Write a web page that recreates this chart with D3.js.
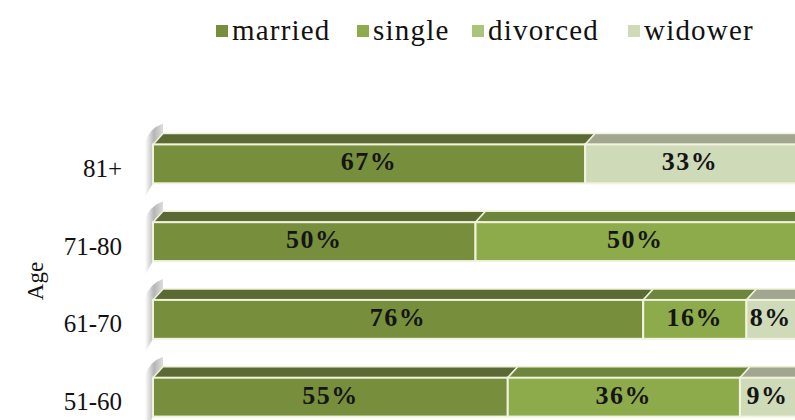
<!DOCTYPE html>
<html>
<head>
<meta charset="utf-8">
<script src="https://cdn.jsdelivr.net/npm/d3@7"></script>
<style>
  html, body { margin: 0; padding: 0; background: #fff; }
  svg { display: block; }
</style>
</head>
<body>
<svg id="chart" width="795" height="420"></svg>
<script>
const categories = ["81+", "71-80", "61-70", "51-60"];
const seriesNames = ["married", "single", "divorced", "widower"];
const married  = [67, 50, 76, 55];
const single   = [0, 50, 16, 36];
const divorced = [0, 0, 0, 0];
const widower  = [33, 0, 8, 9];
const axisTitle = "Age";

const frontColors = ["#778f3d", "#8eab4c", "#aac47a", "#cfdab8"];
const topColors   = ["#5b6a35", "#6e863b", "#8ea35e", "#a0a690"];

const rows = categories.map((c, i) => ({
  cat: c, married: married[i], single: single[i], divorced: divorced[i], widower: widower[i]
}));
const stack = d3.stack().keys(seriesNames)(rows);

const svg = d3.select("#chart");
const W = 795, H = 420;
svg.append("rect").attr("width", W).attr("height", H).attr("fill", "#fff");

const x = d3.scaleLinear().domain([0, 100]).range([153, 798]);
const y = d3.scaleBand().domain(categories).range([125, 436]).paddingInner(0.5).paddingOuter(0.25);
const dx = 10, dy = 11;

const defs = svg.append("defs");
const g1 = defs.append("linearGradient").attr("id", "wallGrad").attr("x1", "0").attr("x2", "1").attr("y1", "0").attr("y2", "0");
g1.append("stop").attr("offset", "0").attr("stop-color", "#ffffff");
g1.append("stop").attr("offset", "0.5").attr("stop-color", "#a8a8a8");
g1.append("stop").attr("offset", "1").attr("stop-color", "#d8d8d8");

// left wall shading for each bar
categories.forEach(c => {
  const fy = y(c), fh = y.bandwidth();
  const x0 = x(0);
  svg.append("path")
    .attr("d", `M${x0-8},${fy+fh+14} L${x0-8},${fy-2} Q${x0-4},${fy-16} ${x0+dx},${fy-dy-10} L${x0+dx},${fy-dy} L${x0},${fy} L${x0},${fy+fh} Z`)
    .attr("fill", "url(#wallGrad)")
    .attr("opacity", 0.85);
});

const gBars = svg.append("g");
categories.forEach((c, ci) => {
  const fy = y(c), fh = y.bandwidth();
  const segs = stack.map((s, si) => ({ si, x0: s[ci][0], x1: s[ci][1] })).filter(d => d.x1 - d.x0 > 0);
  segs.forEach(d => {
    const a = x(d.x0), b = x(d.x1);
    gBars.append("path")
      .attr("d", `M${a},${fy} L${a+dx},${fy-dy} L${b+dx},${fy-dy} L${b},${fy} Z`)
      .attr("fill", topColors[d.si])
      .attr("stroke", "#eef0d8").attr("stroke-width", 1.5);
  });
  segs.forEach(d => {
    const a = x(d.x0), b = x(d.x1);
    gBars.append("rect")
      .attr("x", a).attr("y", fy).attr("width", b - a).attr("height", fh)
      .attr("fill", frontColors[d.si])
      .attr("stroke", "#f2f3dc").attr("stroke-width", 2);
  });
  segs.forEach(d => {
    gBars.append("text")
      .attr("x", (x(d.x0) + Math.min(x(d.x1), 795)) / 2)
      .attr("y", fy + fh / 2 - 2)
      .attr("text-anchor", "middle")
      .attr("dominant-baseline", "central")
      .attr("font-family", "Liberation Serif, Times New Roman, serif")
      .attr("font-weight", "bold")
      .attr("font-size", 26)
      .attr("letter-spacing", 1.5)
      .attr("fill", "#151515")
      .text((d.x1 - d.x0) + "%");
  });
});

const yAxis = d3.axisLeft(y).tickSize(0).tickPadding(0);
const ga = svg.append("g").attr("transform", `translate(122,5)`).call(yAxis);
ga.select(".domain").remove();
ga.selectAll("text")
  .attr("font-family", "Liberation Serif, Times New Roman, serif")
  .attr("font-size", 25)
  .attr("fill", "#111");

svg.append("text")
  .attr("transform", "translate(43,281) rotate(-90)")
  .attr("text-anchor", "middle")
  .attr("font-family", "Liberation Serif, Times New Roman, serif")
  .attr("font-size", 23)
  .attr("fill", "#111")
  .text(axisTitle);

const legendX = [216, 357, 472, 628];
const lg = svg.append("g");
seriesNames.forEach((n, i) => {
  lg.append("rect").attr("x", legendX[i]).attr("y", 25).attr("width", 12).attr("height", 12).attr("fill", frontColors[i]);
  lg.append("text")
    .attr("x", legendX[i] + 16).attr("y", 40)
    .attr("font-family", "Liberation Serif, Times New Roman, serif")
    .attr("font-size", 29)
    .attr("letter-spacing", 1.2)
    .attr("fill", "#111")
    .text(n);
});
</script>
</body>
</html>
